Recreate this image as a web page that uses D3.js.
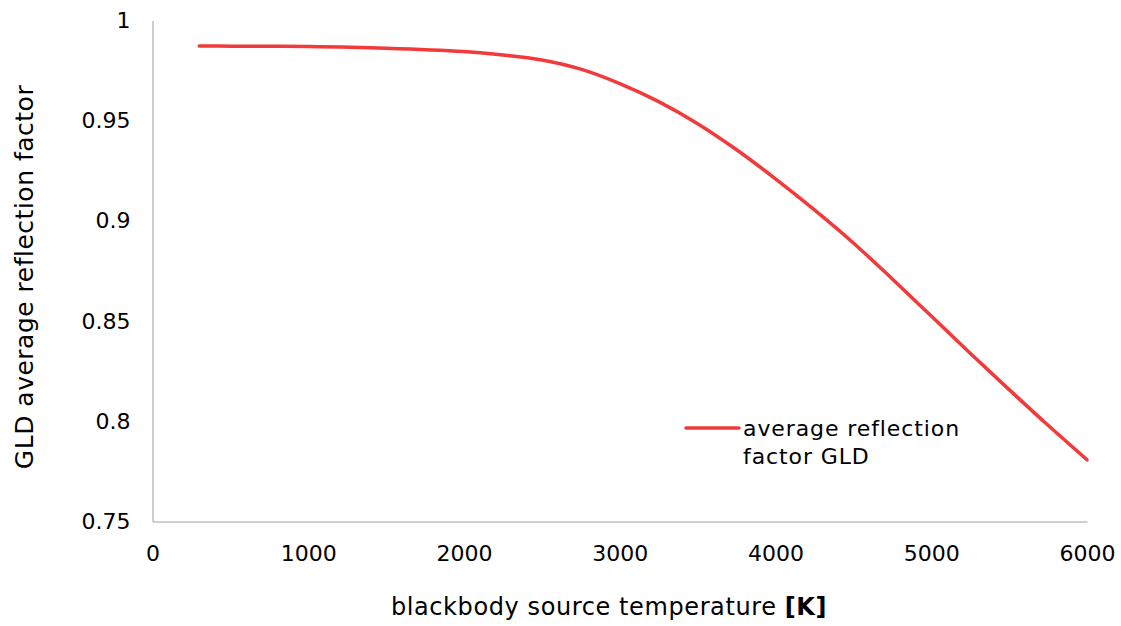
<!DOCTYPE html>
<html>
<head>
<meta charset="utf-8">
<script src="https://cdn.jsdelivr.net/npm/d3@7"></script>
<style>
  html, body { margin: 0; padding: 0; background: #fff; }
  svg { display: block; font-family: "DejaVu Sans", Verdana, sans-serif; }
</style>
</head>
<body>
<svg id="chart" width="1121" height="626"></svg>
<script>
const temperatures = [300, 500, 1000, 1500, 2000, 2250, 2500, 2750, 3000, 3250, 3500, 3750, 4000, 4250, 4500, 4750, 5000, 5250, 5500, 5750, 6000];
const reflection   = [0.9873, 0.9872, 0.9870, 0.9862, 0.9845, 0.9828, 0.9803, 0.9757, 0.9685, 0.9595, 0.9485, 0.9355, 0.9210, 0.9055, 0.8890, 0.8710, 0.8525, 0.8340, 0.8158, 0.7980, 0.7808];
const xTicks = [0, 1000, 2000, 3000, 4000, 5000, 6000];
const yTicks = [0.75, 0.8, 0.85, 0.9, 0.95, 1];
const seriesName = ["average reflection", "factor GLD"];

const svg = d3.select("#chart");
const m = { left: 152.5, right: 1087, top: 20.5, bottom: 521.5 };

const x = d3.scaleLinear().domain([0, 6000]).range([m.left, m.right]);
const y = d3.scaleLinear().domain([0.75, 1]).range([m.bottom, m.top]);

const axisColor = "#bfbfbf";
const ff = "DejaVu Sans, Verdana, sans-serif";

// Y axis
const yAxis = svg.append("g").attr("transform", `translate(${m.left},0)`)
  .call(d3.axisLeft(y).tickValues(yTicks).tickSize(0).tickPadding(22).tickFormat(d => String(+d.toFixed(2))));
yAxis.select(".domain").attr("stroke", axisColor).attr("stroke-width", 1.5);
yAxis.selectAll("text").attr("font-size", 22).attr("fill", "#000").attr("font-family", ff);

// X axis
const xAxis = svg.append("g").attr("transform", `translate(0,${m.bottom})`)
  .call(d3.axisBottom(x).tickValues(xTicks).tickSize(0).tickPadding(24).tickFormat(d3.format("d")));
xAxis.select(".domain").attr("stroke", axisColor).attr("stroke-width", 1.5);
xAxis.selectAll("text").attr("font-size", 22).attr("fill", "#000").attr("font-family", ff);

// Line
const line = d3.line().x((d, i) => x(temperatures[i])).y(d => y(d)).curve(d3.curveCatmullRom.alpha(0.5));
svg.append("path").datum(reflection)
  .attr("d", line)
  .attr("fill", "none")
  .attr("stroke", "#f23a3a")
  .attr("stroke-width", 3.5)
  .attr("stroke-linecap", "round");

// Axis titles
svg.append("text")
  .attr("x", 609).attr("y", 615)
  .attr("text-anchor", "middle")
  .attr("font-size", 24)
  .attr("letter-spacing", 0.6)
  .attr("fill", "#000")
  .html('blackbody source temperature <tspan font-weight="bold">[K]</tspan>');

svg.append("text")
  .attr("transform", "translate(33,277) rotate(-90)")
  .attr("text-anchor", "middle")
  .attr("font-size", 25)
  .attr("letter-spacing", 0.5)
  .attr("fill", "#000")
  .text("GLD average reflection factor");

// Legend
const lg = svg.append("g");
lg.append("line")
  .attr("x1", 686).attr("x2", 739).attr("y1", 428).attr("y2", 428)
  .attr("stroke", "#f23a3a").attr("stroke-width", 3.5).attr("stroke-linecap", "round");
lg.selectAll("text.leg").data(seriesName).join("text")
  .attr("class", "leg")
  .attr("x", 743).attr("y", (d, i) => 436 + i * 28)
  .attr("font-size", 22)
  .attr("letter-spacing", 0.9)
  .attr("fill", "#000")
  .text(d => d);
</script>
</body>
</html>
